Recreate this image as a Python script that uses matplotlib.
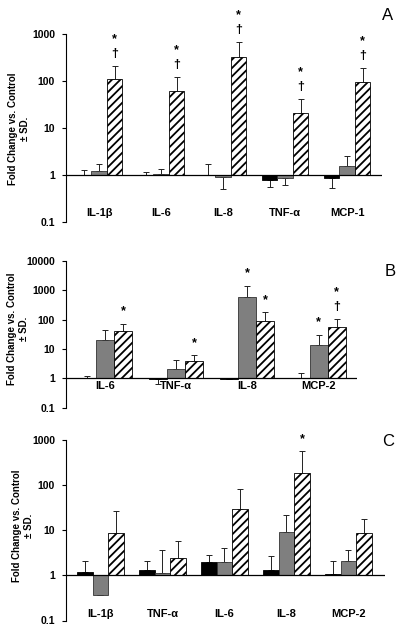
import numpy as np
import matplotlib
matplotlib.use('Agg')
import matplotlib.pyplot as plt
from matplotlib.ticker import FixedLocator, FixedFormatter, NullLocator

plt.rcParams['font.family'] = ['Liberation Sans', 'DejaVu Sans']
plt.rcParams['hatch.linewidth'] = 1.3

# ---- panel A ----
cats_a = ['IL-1β', 'IL-6', 'IL-8', 'TNF-α', 'MCP-1']
black_a = [1.0, 1.0, 1.0, 0.79, 0.85]
black_sd_a = [0.26, 0.18, 0.69, 0.24, 0.31]
gray_a = [1.23, 1.05, 0.89, 0.85, 1.55]
gray_sd_a = [0.48, 0.27, 0.39, 0.25, 1.02]
hatch_a = [110, 61, 325, 21, 95]
hatch_sd_a = [98, 61, 350, 20, 95]
gray_marks_a = ['', '', '', '', '']
hatch_marks_a = ['*†', '*†', '*†', '*†', '*†']

# ---- panel B ----
cats_b = ['IL-6', 'TNF-α', 'IL-8', 'MCP-2']
black_b = [1.05, 0.98, 0.93, 1.03]
black_sd_b = [0.12, 0.34, 0.0, 0.52]
gray_b = [20.4, 2.03, 580, 13.7]
gray_sd_b = [24.6, 2.07, 865, 16.3]
hatch_b = [41, 4.0, 92, 57.7]
hatch_sd_b = [30, 2.1, 86, 45]
gray_marks_b = ['', '', '*', '*']
hatch_marks_b = ['*', '*', '*', '*†']

# ---- panel C ----
cats_c = ['IL-1β', 'TNF-α', 'IL-6', 'IL-8', 'MCP-2']
black_c = [1.18, 1.29, 1.98, 1.34, 1.07]
black_sd_c = [0.9, 0.79, 0.8, 1.4, 1.01]
gray_c = [0.36, 1.15, 1.98, 9.2, 2.08]
gray_sd_c = [0.0, 2.45, 1.94, 12.3, 1.62]
hatch_c = [8.7, 2.47, 28.8, 182, 8.7]
hatch_sd_c = [18.1, 3.33, 51, 368, 9.3]
gray_marks_c = ['', '', '', '', '']
hatch_marks_c = ['', '', '', '*', '']

W, H = 400, 631
fig = plt.figure(figsize=(W / 100, H / 100), dpi=100)


def px_axes(left, right, top, bottom):
    # pixel box -> figure fraction
    return fig.add_axes([left / W, 1 - bottom / H, (right - left) / W, (bottom - top) / H])


def one_sided(vals, sds):
    vals = np.array(vals, dtype=float)
    sds = np.array(sds, dtype=float)
    lower = np.where(vals < 1, sds, 0)
    upper = np.where(vals >= 1, sds, 0)
    return [lower, upper]


def draw_panel(ax, cats, series, marks, ylim, xlim, width, label_y):
    x = np.arange(len(cats))
    offsets = [-width, 0, width]
    styles = [dict(color='black', edgecolor='black'),
              dict(color='#7f7f7f', edgecolor='#333333'),
              dict(color='white', edgecolor='black', hatch='////')]
    for k, (vals, sds) in enumerate(series):
        xs = x + offsets[k]
        vals = np.array(vals, dtype=float)
        ax.bar(xs, vals - 1, bottom=1, width=width, linewidth=0.6, zorder=3, **styles[k])
        ax.errorbar(xs, vals, yerr=one_sided(vals, sds), fmt='none', ecolor='#222222',
                    elinewidth=0.7, capsize=2, capthick=0.7, zorder=2)
        if marks[k] is None:
            continue
        for i in range(len(cats)):
            m = marks[k][i]
            if not m:
                continue
            tip = vals[i] + sds[i] if vals[i] >= 1 else vals[i]
            for j, ch in enumerate(reversed(m)):
                ax.annotate(ch, (xs[i], tip), xytext=(0, 9 + j * 10.5),
                            textcoords='offset points', ha='center', va='center',
                            fontsize=9, fontweight='bold', annotation_clip=False)

    ax.axhline(1, color='black', linewidth=0.9, zorder=4)
    ax.set_yscale('log')
    ax.set_ylim(*ylim)
    ax.set_xlim(*xlim)
    ticks = [10.0 ** p for p in range(int(np.log10(ylim[0])), int(np.log10(ylim[1])) + 1)]
    ax.yaxis.set_major_locator(FixedLocator(ticks))
    ax.yaxis.set_major_formatter(FixedFormatter(['%g' % t for t in ticks]))
    ax.yaxis.set_minor_locator(NullLocator())
    ax.set_xticks([])
    for s in ['top', 'right', 'bottom']:
        ax.spines[s].set_visible(False)
    ax.spines['left'].set_linewidth(0.8)
    ax.tick_params(axis='y', direction='out', length=3, width=0.8, labelsize=7.5, pad=5)
    for t in ax.get_yticklabels():
        t.set_fontweight('bold')
    for i, c in enumerate(cats):
        ax.text(x[i], label_y, c, ha='center', va='center', fontsize=8, fontweight='bold')


ax_a = px_axes(66, 381.7, 34.3, 221.9)
draw_panel(ax_a, cats_a,
           [(black_a, black_sd_a), (gray_a, gray_sd_a), (hatch_a, hatch_sd_a)],
           [None, gray_marks_a, hatch_marks_a],
           (0.1, 1000), (-0.535, 4.556), 0.25, 0.155)

ax_b = px_axes(66, 356.7, 261.1, 407.6)
draw_panel(ax_b, cats_b,
           [(black_b, black_sd_b), (gray_b, gray_sd_b), (hatch_b, hatch_sd_b)],
           [None, gray_marks_b, hatch_marks_b],
           (0.1, 10000), (-0.548, 3.535), 0.253, 0.56)

ax_c = px_axes(66, 385, 439.7, 620.5)
draw_panel(ax_c, cats_c,
           [(black_c, black_sd_c), (gray_c, gray_sd_c), (hatch_c, hatch_sd_c)],
           [None, gray_marks_c, hatch_marks_c],
           (0.1, 1000), (-0.556, 4.589), 0.255, 0.14)

# y labels and panel letters
ylab = 'Fold Change vs. Control\n± SD.'
for xp, yp in [(19, 129), (18, 329), (23, 526)]:
    fig.text(xp / W, 1 - yp / H, ylab, rotation=90, ha='center', va='center',
             fontsize=7, fontweight='bold', linespacing=1.3, multialignment='center')
for letter, xp, yp in [('A', 388, 15), ('B', 390, 272), ('C', 388, 442)]:
    fig.text(xp / W, 1 - yp / H, letter, ha='center', va='center', fontsize=12)

fig.savefig('out.png', dpi=100)
